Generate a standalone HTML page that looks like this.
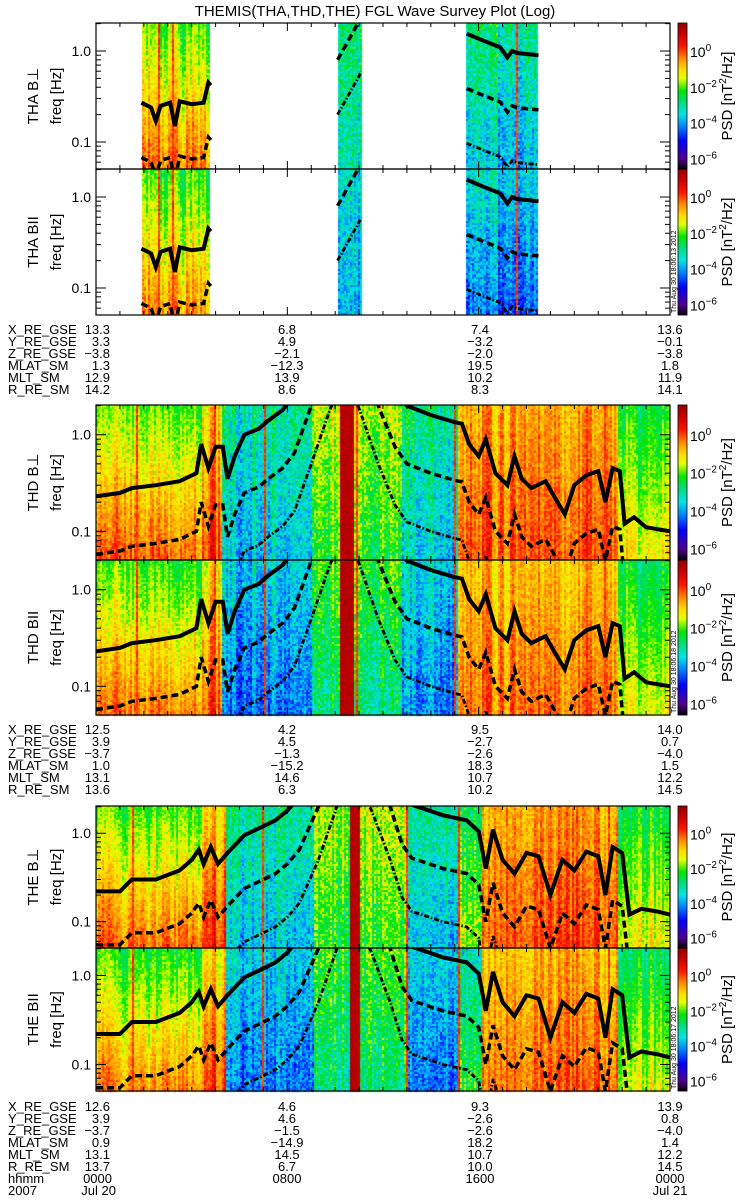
<!DOCTYPE html>
<html><head><meta charset="utf-8">
<style>
html,body{margin:0;padding:0;background:#fff;}
#wrap{position:relative;width:750px;height:1200px;overflow:hidden;}
canvas,svg{position:absolute;left:0;top:0;}
text{font-family:"Liberation Sans",sans-serif;fill:#000;}
</style></head>
<body>
<div id="wrap">
<canvas id="cv" width="750" height="1200"></canvas>
<svg id="sv" width="750" height="1200" xmlns="http://www.w3.org/2000/svg">
<text x="375" y="16" text-anchor="middle" font-size="15">THEMIS(THA,THD,THE) FGL Wave Survey Plot (Log)</text>
</svg>
</div>
<script>
// ---------- data ----------
const thaSegStart=[1.9,10.1,15.5];
const thaSegEnd=[4.8,11.1,18.5];
const thaSegLvl=[-0.6,-3.0,-3.6];
const thaSegSlope=[-1.1,0.3,0.6];
const thdSegStart=[0,4.4,5.3,9.0,10.2,10.75,12.8,15.1,21.8];
const thdSegEnd=[4.4,5.3,9.0,10.2,10.75,12.8,15.1,21.8,24];
const thdSegLvl=[-0.4,0.1,-3.6,-2.2,1.3,-2.2,-3.5,-0.1,-1.4];
const thdSegSlope=[-1.2,-0.8,0.5,0.5,0,0.5,0.5,-0.4,-0.8];
const theSegStart=[0,4.4,5.4,9.15,10.6,11.0,13.0,15.1,16.1,21.8];
const theSegEnd=[4.4,5.4,9.15,10.6,11.0,13.0,15.1,16.1,21.8,24];
const theSegLvl=[-0.5,0,-3.6,-2.2,1.3,-2.2,-3.5,-1.8,-0.1,-1.4];
const theSegSlope=[-1.2,-0.8,0.5,0.5,0,0.5,0.5,-0.6,-0.4,-0.8];
const thaSpikes=[2.6,3.2,17.6];
const thdSpikes=[1.7,4.9,7.0,10.9,15.0,21.2];
const theSpikes=[1.5,6.9,10.8,13.0,15.1,21.4];
const thaFhHours=[1.9,2.3,2.5,2.7,3.1,3.3,3.5,4.0,4.5,4.7,4.8,null,10.1,11.1,null,15.5,16.2,16.9,17.2,17.4,17.6,18.5];
const thaFhHz=[0.27,0.24,0.17,0.25,0.27,0.15,0.28,0.26,0.27,0.45,0.42,null,3.2,9.5,null,1.55,1.3,1.1,0.85,1.0,0.95,0.9];
const thdFhHours=[0,1,1.5,2.5,3.5,4.2,4.4,4.7,5,5.3,5.5,5.8,6.2,6.8,7.2,7.8,8.3,9,9.8,10.4,11,11.8,12.5,13,14,15,15.3,15.6,16,16.3,16.7,17.2,17.5,17.8,18.2,18.8,19.2,19.6,20,20.5,21,21.3,21.6,21.9,22.1,22.5,23,24];
const thdFhHz=[0.23,0.25,0.28,0.3,0.33,0.4,0.8,0.45,0.75,0.75,0.35,0.6,1.0,1.15,1.4,1.8,2.6,8,30,60,30,8,3,2.0,1.6,1.35,1.3,0.8,0.6,0.9,0.4,0.3,0.6,0.35,0.28,0.33,0.22,0.15,0.3,0.38,0.42,0.2,0.45,0.42,0.12,0.14,0.11,0.1];
const theFhHours=[0,1,1.5,2.5,3.5,4,4.3,4.5,4.8,5.1,5.5,6.2,7,7.5,8,8.5,9.3,10.2,10.8,11.5,12.3,12.8,13.2,14.5,15.5,16,16.3,16.6,17,17.5,18,18.5,19,19.5,20,20.5,21,21.3,21.6,22,22.3,22.8,23.5,24];
const theFhHz=[0.22,0.22,0.3,0.3,0.38,0.5,0.65,0.45,0.7,0.45,0.6,0.95,1.2,1.4,1.8,2.6,8,40,60,30,8,3,2.1,1.6,1.4,1.05,0.4,1.1,0.5,0.35,0.6,0.55,0.2,0.5,0.38,0.62,0.55,0.2,0.7,0.6,0.12,0.14,0.13,0.12];
const ephLabels=["X_RE_GSE","Y_RE_GSE","Z_RE_GSE","MLAT_SM","MLT_SM","R_RE_SM"];
const thaEph=[["13.3","3.3","-3.8","1.3","12.9","14.2"],["6.8","4.9","-2.1","-12.3","13.9","8.6"],["7.4","-3.2","-2.0","19.5","10.2","8.3"],["13.6","-0.1","-3.8","1.8","11.9","14.1"]];
const thdEph=[["12.5","3.9","-3.7","1.0","13.1","13.6"],["4.2","4.5","-1.3","-15.2","14.6","6.3"],["9.5","-2.7","-2.6","18.3","10.7","10.2"],["14.0","0.7","-4.0","1.5","12.2","14.5"]];
const theEph=[["12.6","3.9","-3.7","0.9","13.1","13.7"],["4.6","4.6","-1.5","-14.9","14.5","6.7"],["9.3","-2.6","-2.6","18.2","10.7","10.0"],["13.9","0.8","-4.0","1.4","12.2","14.5"]];
const timeTickLabels=["0000","0800","1600","0000"];
const dateLabels=["Jul 20","","","Jul 21"];

const X0=96,X1=670,FMAXL=0.308,FMINL=-1.297,LMIN=-6.6,LMAX=1.57;
function xOf(h){return X0+h*(X1-X0)/24;}
function yOf(f,y0,y1){return y0+(FMAXL-Math.log10(f))/(FMAXL-FMINL)*(y1-y0);}
const probes={
 THA:{start:thaSegStart,end:thaSegEnd,lvl:thaSegLvl,slope:thaSegSlope,spikes:thaSpikes,fh:thaFhHours,fz:thaFhHz,eph:thaEph,seed:1},
 THD:{start:thdSegStart,end:thdSegEnd,lvl:thdSegLvl,slope:thdSegSlope,spikes:thdSpikes,fh:thdFhHours,fz:thdFhHz,eph:thdEph,seed:2},
 THE:{start:theSegStart,end:theSegEnd,lvl:theSegLvl,slope:theSegSlope,spikes:theSpikes,fh:theFhHours,fz:theFhHz,eph:theEph,seed:3}
};
const panels=[
 {p:"THA",c:"B⊥",y0:23,y1:169},{p:"THA",c:"BII",y0:169,y1:315},
 {p:"THD",c:"B⊥",y0:405,y1:560},{p:"THD",c:"BII",y0:560,y1:715},
 {p:"THE",c:"B⊥",y0:806,y1:948},{p:"THE",c:"BII",y0:948,y1:1091}
];
const ephTop={THA:329,THD:729,THE:1106};

const stops=[[-6.6,[0,0,0]],[-6.0,[80,0,140]],[-5.0,[0,0,255]],[-4.2,[0,130,255]],[-3.5,[0,230,230]],[-2.8,[0,220,120]],[-2.2,[0,230,0]],[-1.5,[230,255,0]],[-1.0,[255,220,0]],[-0.4,[255,140,0]],[0.3,[255,20,0]],[1.0,[200,0,0]],[1.57,[150,0,0]]];
function col(L){
 if(L<=stops[0][0])return stops[0][1];
 for(let i=1;i<stops.length;i++){if(L<=stops[i][0]){const a=stops[i-1],b=stops[i],t=(L-a[0])/(b[0]-a[0]);return [0,1,2].map(k=>Math.round(a[1][k]+(b[1][k]-a[1][k])*t));}}
 return stops[stops.length-1][1];
}
function hash(a,b,c){let h=(a*374761393+b*668265263+c*2147483647)|0;h=(h^(h>>>13))*1274126177|0;h=h^(h>>>16);return ((h>>>0)%10000)/10000;}

const cv=document.getElementById('cv'),ctx=cv.getContext('2d');
panels.forEach((P,pi)=>{
 const pr=probes[P.p];const par=P.c!=="B⊥";
 for(let px=0;px<X1-X0;px+=2){
  const h=(px+1)*24/(X1-X0);
  let si=-1;for(let i=0;i<pr.start.length;i++){if(h>=pr.start[i]&&h<pr.end[i]){si=i;break;}}
  if(si<0)continue;
  let spike=pr.spikes.some(s=>Math.abs(xOf(s)-(X0+px))<1);
  const colN=(hash(pr.seed,px,7)-0.5)*0.9;
  const streak=hash(pr.seed,Math.floor(px/6),3)-0.5;
  for(let py=P.y0;py<P.y1;py+=2){
   const lf=FMAXL-(py+1-P.y0)/(P.y1-P.y0)*(FMAXL-FMINL);
   let lvl=pr.lvl[si];
   let L=lvl+pr.slope[si]*(lf+1)+colN+streak*0.5+(hash(pr.seed+pi*11,px,py)-0.5)*(lvl<-1.5?1.3:0.8);
   if(par) L+= (lvl<-1.5?-0.6:-0.2);
   if(spike) L=Math.max(L,0.1+(hash(px,py,9)-0.5)*0.6);
   if(lvl>1) L=1.2+(hash(px,py,5)-0.5)*0.3;
   const c=col(L);ctx.fillStyle=`rgb(${c[0]},${c[1]},${c[2]})`;ctx.fillRect(X0+px,py,2,2);
  }
 }
 for(let y=P.y0;y<P.y1;y++){const L=LMAX-(y-P.y0)/(P.y1-P.y0)*(LMAX-LMIN);const c=col(L);ctx.fillStyle=`rgb(${c[0]},${c[1]},${c[2]})`;ctx.fillRect(678,y,9,1);}
});

const NS="http://www.w3.org/2000/svg",sv=document.getElementById('sv');
function el(tag,attrs,parent){const e=document.createElementNS(NS,tag);for(const k in attrs)e.setAttribute(k,attrs[k]);(parent||sv).appendChild(e);return e;}
const defs=el('defs',{});
panels.forEach((P,pi)=>{
 const pr=probes[P.p];
 const g=el('g',{});
 
 
 const cp=el('clipPath',{id:'cp'+pi},defs);el('rect',{x:X0,y:P.y0,width:X1-X0,height:P.y1-P.y0},cp);
 const styles=[{r:1,w:4,d:"none",n:"fh-line"},{r:4,w:3.5,d:"7,4",n:"fhe-line"},{r:16,w:2.8,d:"5,2,1.5,2",n:"fo-line"}];
 styles.forEach(s=>{
  let d="",pen=false;
  for(let i=0;i<pr.fh.length;i++){
   if(pr.fh[i]===null){pen=false;continue;}
   const x=xOf(pr.fh[i]),y=yOf(pr.fz[i]/s.r,P.y0,P.y1);
   d+=(pen?"L":"M")+x.toFixed(1)+","+y.toFixed(1);pen=true;
  }
  const pa=el('path',{d:d,fill:"none",stroke:"#000","stroke-width":s.w,"stroke-dasharray":s.d,"clip-path":"url(#cp"+pi+")"},g);
  
  
 });
 const fr=el('rect',{x:X0,y:P.y0,width:X1-X0,height:P.y1-P.y0,fill:"none",stroke:"#000","stroke-width":1.2},g);
 
 
 const decs=[0.01,0.1,1];
 decs.forEach(dv=>{for(let m=1;m<10;m++){const f=dv*m;const lf=Math.log10(f);if(lf<FMINL||lf>FMAXL)continue;const y=yOf(f,P.y0,P.y1);const len=m===1?10:5;
  el('line',{x1:X0,x2:X0+len,y1:y,y2:y,stroke:"#000","stroke-width":1},g);el('line',{x1:X1,x2:X1-len,y1:y,y2:y,stroke:"#000","stroke-width":1},g);}});
 [["1.0",1],["0.1",0.1]].forEach(t=>{const tx=el('text',{x:91,y:yOf(t[1],P.y0,P.y1)+5,"text-anchor":"end","font-size":14},g);tx.textContent=t[0];
  
  });
 for(let h=0;h<=24;h++){const x=xOf(h);const len=h%8===0?8:4;
  el('line',{x1:x,x2:x,y1:P.y1,y2:P.y1-len,stroke:"#000","stroke-width":1},g);el('line',{x1:x,x2:x,y1:P.y0,y2:P.y0+len,stroke:"#000","stroke-width":1},g);}
 const cy=(P.y0+P.y1)/2;
 const t1=el('text',{x:0,y:0,transform:`translate(38,${cy}) rotate(-90)`,"text-anchor":"middle","font-size":15},g);t1.textContent=P.p+" "+(P.c==="B⊥"?"B⊥":"BII");
 
 
 const t2=el('text',{x:0,y:0,transform:`translate(61,${cy}) rotate(-90)`,"text-anchor":"middle","font-size":15},g);t2.textContent="freq [Hz]";
 
 
 const cb=el('rect',{x:678,y:P.y0,width:9,height:P.y1-P.y0,fill:"none",stroke:"#000","stroke-width":0.8},g);
 
 
 [0,-2,-4,-6].forEach(e=>{const y=P.y0+(LMAX-e)/(LMAX-LMIN)*(P.y1-P.y0);
  const tx=el('text',{x:690,y:y+6,"font-size":14},g);tx.textContent="10";
  const sp=el('tspan',{dy:-6,"font-size":10},tx);sp.textContent=e===0?"0":"−"+(-e);
  
  });
 const ct=el('text',{x:0,y:0,transform:`translate(732,${cy}) rotate(-90)`,"text-anchor":"middle","font-size":15},g);
 ct.textContent="PSD [nT";const s2=el('tspan',{dy:-6,"font-size":10},ct);s2.textContent="2";const s3=el('tspan',{dy:6},ct);s3.textContent="/Hz]";
 
 
 if(P.c!=="B⊥"){const st=el('text',{x:0,y:0,transform:`translate(676,${P.y1-2}) rotate(-90)`,"font-size":7},g);
  st.textContent="Thu Aug 30 18:06:1"+(pi===1?"3":pi===3?"8":"7")+" 2012";
  
  }
});
const colX=[110,287,480,670];
["THA","THD","THE"].forEach(p=>{
 const g=el('g',{});
 
 
 const y0=ephTop[p];
 ephLabels.forEach((lab,i)=>{const y=y0+i*12+5;
  const t=el('text',{x:8,y:y,"font-size":13},g);t.textContent=lab;
  probes[p].eph.forEach((vals,j)=>{const tt=el('text',{x:colX[j],y:y,"text-anchor":j===0?"end":"middle","font-size":13},g);tt.textContent=vals[i].replace("-","−");});
 });
 if(p==="THE"){
  let y=y0+6*12+5;const t=el('text',{x:8,y:y,"font-size":13},g);t.textContent="hhmm";
  timeTickLabels.forEach((v,j)=>{const tt=el('text',{x:j===0?112:colX[j],y:y,"text-anchor":j===0?"end":"middle","font-size":13},g);tt.textContent=v;});
  y+=12;const t2=el('text',{x:8,y:y,"font-size":13},g);t2.textContent="2007";
  dateLabels.forEach((v,j)=>{if(!v)return;const tt=el('text',{x:j===0?116:colX[j],y:y,"text-anchor":j===0?"end":"middle","font-size":13},g);tt.textContent=v;});
 }
});
</script>
</body></html>
